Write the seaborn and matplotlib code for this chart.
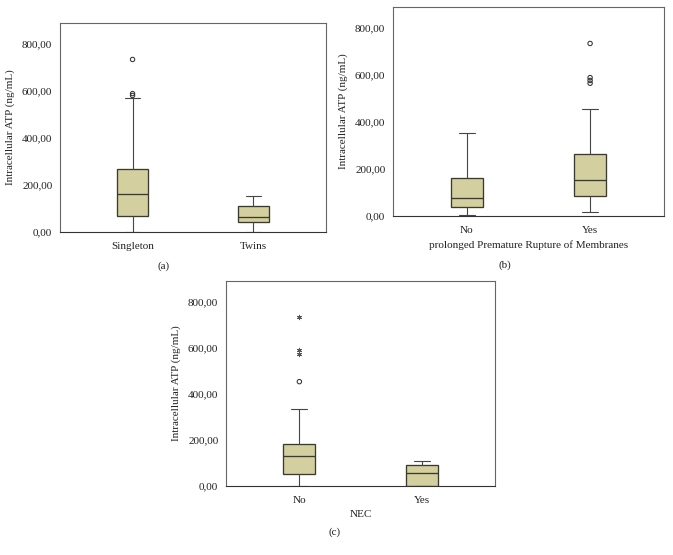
import matplotlib
matplotlib.use("Agg")
import matplotlib.pyplot as plt
import seaborn as sns
from matplotlib.ticker import FuncFormatter

# (a) singleton vs twins
groups_a = ["Singleton", "Twins"]
whislo_a = [0, 0]
q1_a = [70, 41]
med_a = [162, 64]
q3_a = [268, 109]
whishi_a = [570, 152]
circ_a_x = [0, 0, 0]
circ_a_y = [733, 588, 580]
star_a_x = []
star_a_y = []

# (b) prolonged PROM
groups_b = ["No", "Yes"]
whislo_b = [3, 16]
q1_b = [37, 85]
med_b = [76, 151]
q3_b = [162, 264]
whishi_b = [351, 454]
circ_b_x = [1, 1, 1, 1]
circ_b_y = [733, 588, 576, 564]
star_b_x = []
star_b_y = []

# (c) NEC
groups_c = ["No", "Yes"]
whislo_c = [2, 1]
q1_c = [53, 2]
med_c = [130, 55]
q3_c = [180, 89]
whishi_c = [335, 108]
circ_c_x = [0]
circ_c_y = [452]
star_c_x = [0, 0, 0]
star_c_y = [733, 589, 570]

yticks = [0, 200, 400, 600, 800]

sns.set_style("white")
plt.rcParams["font.family"] = ["Liberation Serif", "DejaVu Serif"]
plt.rcParams["font.size"] = 8
plt.rcParams["text.color"] = "#222222"
plt.rcParams["axes.labelcolor"] = "#222222"
plt.rcParams["xtick.color"] = "#222222"
plt.rcParams["ytick.color"] = "#222222"

box_fc = "#D4CF9F"
box_ec = "#3A3A2E"
line_c = "#454545"


def panel(ax, groups, lo, q1, med, q3, hi, cx, cy, sx, sy, xlabel):
    stats = []
    for g, a, b, c, d, e in zip(groups, lo, q1, med, q3, hi):
        stats.append(dict(label=g, whislo=a, q1=b, med=c, q3=d, whishi=e, fliers=[]))
    ax.bxp(stats, positions=range(len(groups)), widths=0.26, capwidths=0.13,
           patch_artist=True, showfliers=False,
           boxprops=dict(facecolor=box_fc, edgecolor=box_ec, linewidth=0.95),
           medianprops=dict(color=box_ec, linewidth=0.95),
           whiskerprops=dict(color=line_c, linewidth=0.8),
           capprops=dict(color=line_c, linewidth=0.8))
    if cx:
        sns.scatterplot(x=cx, y=cy, ax=ax, marker="o", s=10, facecolors="none",
                        edgecolor="#333333", linewidth=0.75, zorder=5)
    if sx:
        sns.scatterplot(x=sx, y=sy, ax=ax, marker=(6, 2, 0), s=10,
                        edgecolor="#555555", color="#555555", linewidth=0.7, zorder=5)
    ax.set_xlim(-0.6, 1.6)
    ax.set_ylim(0, 888)
    ax.set_yticks(yticks)
    ax.yaxis.set_major_formatter(FuncFormatter(lambda v, p: f"{v:.2f}".replace(".", ",")))
    ax.set_ylabel("Intracellular ATP (ng/mL)", labelpad=5)
    ax.set_xlabel(xlabel, labelpad=4)
    ax.tick_params(axis="both", direction="out", length=3.5, width=0.8, pad=2)
    ax.tick_params(axis="x", pad=3.5)
    for name, sp in ax.spines.items():
        sp.set_visible(True)
        sp.set_color("#666666")
        sp.set_linewidth(0.8)
    ax.spines["bottom"].set_color("#333333")


fig = plt.figure(figsize=(6.73, 5.55), dpi=100)
ax_a = fig.add_axes([60 / 673, 1 - 232 / 555, 266 / 673, 209 / 555])
ax_b = fig.add_axes([393 / 673, 1 - 216 / 555, 271 / 673, 209 / 555])
ax_c = fig.add_axes([226 / 673, 1 - 486 / 555, 269 / 673, 205 / 555])

panel(ax_a, groups_a, whislo_a, q1_a, med_a, q3_a, whishi_a,
      circ_a_x, circ_a_y, star_a_x, star_a_y, "")
panel(ax_b, groups_b, whislo_b, q1_b, med_b, q3_b, whishi_b,
      circ_b_x, circ_b_y, star_b_x, star_b_y, "prolonged Premature Rupture of Membranes")
panel(ax_c, groups_c, whislo_c, q1_c, med_c, q3_c, whishi_c,
      circ_c_x, circ_c_y, star_c_x, star_c_y, "NEC")

fig.text(164 / 673, 1 - 266 / 555, "(a)", ha="center", va="center")
fig.text(505 / 673, 1 - 265 / 555, "(b)", ha="center", va="center")
fig.text(335 / 673, 1 - 532 / 555, "(c)", ha="center", va="center")

fig.savefig("out.png", dpi=100)
